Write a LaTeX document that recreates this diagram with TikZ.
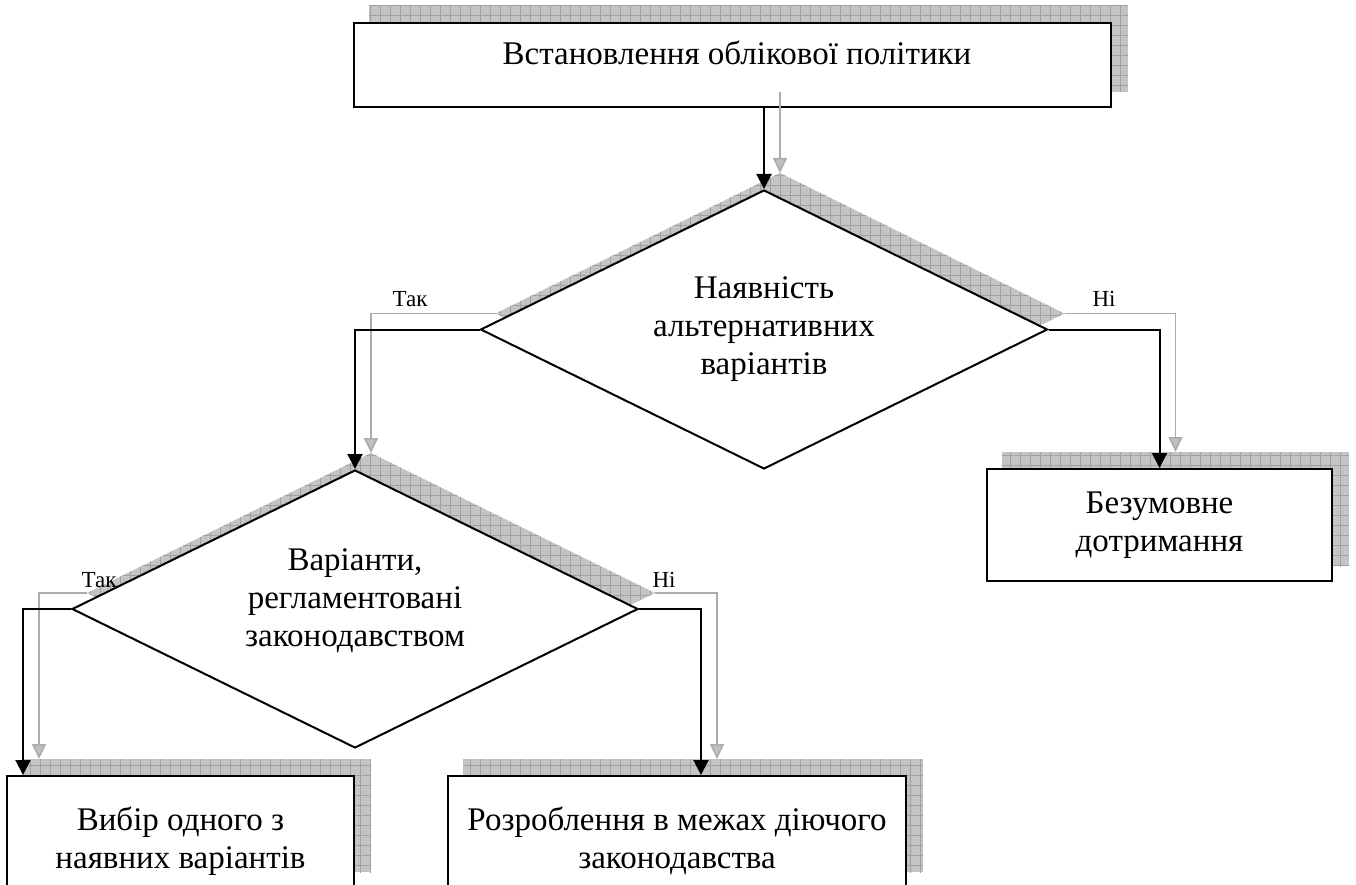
\documentclass[tikz,border=0pt]{standalone}
\usepackage{fontspec}
\setmainfont{Liberation Serif}
\usetikzlibrary{shapes.geometric,arrows.meta,patterns.meta}
\pgfdeclarelayer{background}
\pgfsetlayers{background,main}
\definecolor{shbase}{HTML}{C4C4C4}
\definecolor{shline}{HTML}{A0A0A0}
\definecolor{cgray}{HTML}{ACACAC}
\definecolor{cgrayfill}{HTML}{C0C0C0}
\begin{document}
\begin{tikzpicture}[x=1pt,y=-1pt,
  box/.style={draw=black, line width=2pt, fill=white, inner sep=0pt},
  dia/.style={draw=black, line width=2pt, fill=white, diamond, inner sep=0pt, aspect=2},
  txt/.style={font=\fontsize{33}{38}\selectfont, align=center, inner sep=0pt},
  lbl/.style={font=\fontsize{23}{27}\selectfont, inner sep=0pt},
  conn/.style={draw=black, line width=2pt, -{Triangle[width=15pt,length=15pt]}},
  sconn/.style={draw=cgray, line width=1.6pt, -{Triangle[width=14pt,length=15pt,fill=cgrayfill]}},
  sh/.style={shift={(16,-16)}},
  shadowfill/.style={fill=shbase,
    postaction={pattern={Lines[angle=0,distance=10pt,line width=0.9pt]}, pattern color=shline},
    postaction={pattern={Lines[angle=90,distance=10pt,line width=0.9pt]}, pattern color=shline}}
]
\useasboundingbox (0,0) rectangle (1356,885);
\clip (0,0) rectangle (1356,885);

% shapes
\node[box, minimum width=757pt, minimum height=84pt] (b1) at (732.5,65) {};
\node[txt, anchor=base] (t1) at (737,65) {Встановлення облікової політики};

\node[dia, minimum width=567pt, minimum height=279pt, txt] (d1) at (764,329.5)
  {Наявність\\альтернативних\\варіантів};

\node[dia, minimum width=566pt, minimum height=278pt] (d2) at (355,609) {};
\node[txt] (t2) at (355,601) {Варіанти,\\регламентовані\\законодавством};

\node[box, txt, minimum width=345pt, minimum height=112pt] (b3) at (1159.5,525)
  {Безумовне\\дотримання};

\node[box, minimum width=347pt, minimum height=111pt] (b4) at (180.5,831.5) {};
\node[txt] (t4) at (180.5,841) {Вибір одного з\\наявних варіантів};

\node[box, minimum width=458pt, minimum height=111pt] (b5) at (677,831.5) {};
\node[txt] (t5) at (677,841) {Розроблення в межах діючого\\законодавства};

% labels
\node[lbl, anchor=base] (l1) at (410,306) {Так};
\node[lbl, anchor=base] (l2) at (1104,306) {Ні};
\node[lbl, anchor=base] (l3) at (99,587) {Так};
\node[lbl, anchor=base] (l4) at (664,587) {Ні};

% shadows
\begin{pgfonlayer}{background}
  \path[shadowfill] ([sh]b1.south west) rectangle ([sh]b1.north east);
  \path[shadowfill] ([sh]b3.south west) rectangle ([sh]b3.north east);
  \path[shadowfill] ([sh]b4.south west) rectangle ([sh]b4.north east);
  \path[shadowfill] ([sh]b5.south west) rectangle ([sh]b5.north east);
  \path[shadowfill] ([sh]d1.north) -- ([sh]d1.east) -- ([sh]d1.south) -- ([sh]d1.west) -- cycle;
  \path[shadowfill] ([sh]d2.north) -- ([sh]d2.east) -- ([sh]d2.south) -- ([sh]d2.west) -- cycle;
\end{pgfonlayer}

% connector end points
\coordinate (a1) at (b1.south -| d1.north);
\coordinate (b4in) at ([xshift=17pt]b4.north west);
\coordinate (b5in) at ([xshift=254pt]b5.north west);

% connector shadows
\draw[sconn] ([sh]a1) -- ([sh]d1.north);
\draw[sconn] ([sh]d1.west) -| ([sh]d2.north);
\draw[sconn] ([sh]d1.east) -| ([sh]b3.north);
\draw[sconn] ([sh]d2.west) -| ([sh]b4in);
\draw[sconn] ([sh]d2.east) -| ([sh]b5in);

% connectors
\draw[conn] (a1) -- (d1.north);
\draw[conn] (d1.west) -| (d2.north);
\draw[conn] (d1.east) -| (b3.north);
\draw[conn] (d2.west) -| (b4in);
\draw[conn] (d2.east) -| (b5in);
\end{tikzpicture}
\end{document}
